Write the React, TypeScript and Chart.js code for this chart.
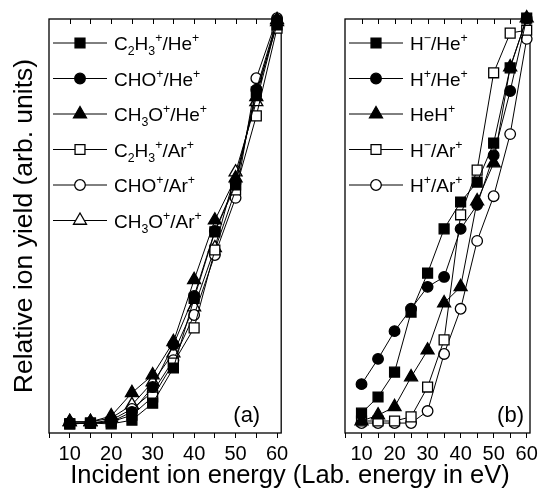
import React, { useEffect, useRef } from 'react';
import { Chart, registerables } from 'chart.js';

Chart.register(...registerables);

const FONT = "'Liberation Sans', Arial, Helvetica, sans-serif";

// Incident ion energies (eV)
const energies = [10, 15, 20, 25, 30, 35, 40, 45, 50, 55, 60];
const xMajorTicks = [10, 20, 30, 40, 50, 60];
const xMinorTicks = [5, 15, 25, 35, 45, 55];

// Panel (a)
const aLabels = ['C_2H_3^+/He^+', 'CHO^+/He^+', 'CH_3O^+/He^+', 'C_2H_3^+/Ar^+', 'CHO^+/Ar^+', 'CH_3O^+/Ar^+'];
const aC2H3He = [2.2, 2.4, 2.2, 3.1, 7.2, 15.7, 32.5, 48.6, 59.9, 82.4, 98.6];
const aCHOHe = [2.4, 2.4, 2.7, 5.1, 11.1, 21.3, 33.1, 48.8, 60.4, 82.9, 99.8];
const aCH3OHe = [2.7, 2.7, 4.1, 9.7, 14.0, 22.0, 37.0, 51.4, 61.6, 81.2, 99.8];
const aC2H3Ar = [2.2, 2.4, 2.7, 4.3, 8.7, 16.9, 25.4, 44.2, 58.7, 76.6, 97.8];
const aCHOAr = [2.4, 2.4, 3.1, 5.8, 9.9, 17.6, 28.5, 43.0, 56.8, 85.7, 100.2];
const aCH3OAr = [2.7, 2.7, 3.6, 6.8, 12.3, 19.3, 30.4, 44.7, 63.0, 80.0, 99.3];

// Panel (b)
const bLabels = ['H^−/He^+', 'H^+/He^+', 'HeH^+', 'H^−/Ar^+', 'H^+/Ar^+'];
const bHmHe = [4.8, 8.7, 14.7, 29.2, 38.6, 49.3, 55.8, 60.6, 70.0, 88.2, 100.2];
const bHpHe = [11.8, 17.9, 24.6, 30.0, 35.3, 37.7, 49.3, 55.1, 67.1, 82.6, 100.2];
const bHeH = [2.9, 4.3, 6.3, 13.5, 20.0, 31.4, 35.3, 56.0, 65.2, 88.4, 100.2];
const bHmAr = [2.9, 2.9, 2.9, 3.9, 11.1, 22.5, 52.7, 63.5, 87.0, 96.6, 97.3];
const bHpAr = [2.4, 2.4, 2.4, 2.4, 5.3, 19.1, 30.0, 46.4, 57.2, 72.2, 95.2];

type Style = 'rect' | 'circle' | 'triangle';

function markerRadius(style: Style) {
  return style === 'rect' ? 7 : style === 'circle' ? 5.3 : 7.5;
}

function makeDataset(label: string, values: number[], style: Style, filled: boolean) {
  const r = markerRadius(style);
  return {
    label,
    data: energies.map((x, i) => ({ x, y: values[i] })),
    pointStyle: style,
    pointRadius: r,
    pointHoverRadius: r,
    pointBackgroundColor: filled ? '#000' : '#fff',
    pointBorderColor: '#000',
    pointBorderWidth: 1.3,
    borderColor: '#000',
    backgroundColor: filled ? '#000' : '#fff',
    borderWidth: 1,
    tension: 0,
    fill: false,
    clip: false,
    _style: style,
    _filled: filled,
  };
}

function drawMarker(ctx: CanvasRenderingContext2D, style: Style, x: number, y: number, filled: boolean) {
  const r = markerRadius(style);
  ctx.beginPath();
  if (style === 'rect') {
    const s = Math.SQRT1_2 * r;
    ctx.rect(x - s, y - s, 2 * s, 2 * s);
  } else if (style === 'circle') {
    ctx.arc(x, y, r, 0, Math.PI * 2);
  } else {
    const a = (2 * Math.PI) / 3;
    ctx.moveTo(x, y - r);
    ctx.lineTo(x + Math.sin(a) * r, y - Math.cos(a) * r);
    ctx.lineTo(x + Math.sin(2 * a) * r, y - Math.cos(2 * a) * r);
    ctx.closePath();
  }
  ctx.fillStyle = filled ? '#000' : '#fff';
  ctx.fill();
  ctx.lineWidth = 1.3;
  ctx.strokeStyle = '#000';
  ctx.stroke();
}

function drawRich(ctx: CanvasRenderingContext2D, text: string, x: number, y: number, size: number) {
  let cx = x;
  ctx.textAlign = 'left';
  ctx.textBaseline = 'alphabetic';
  ctx.fillStyle = '#000';
  for (let i = 0; i < text.length; i++) {
    let ch = text[i];
    let mode = 0;
    if ((ch === '_' || ch === '^') && i + 1 < text.length) {
      mode = ch === '_' ? 1 : 2;
      i++;
      ch = text[i];
    }
    const fs = mode ? size * 0.65 : size;
    ctx.font = `${fs}px ${FONT}`;
    const dy = mode === 1 ? size * 0.28 : mode === 2 ? -size * 0.4 : 0;
    ctx.fillText(ch, cx, y + dy);
    cx += ctx.measureText(ch).width;
  }
}

const framePlugin = {
  id: 'frame',
  beforeDatasetsDraw(chart: any, _args: any, opts: any) {
    const { ctx, chartArea } = chart;
    const { left, right, top, bottom } = chartArea;
    ctx.save();
    ctx.strokeStyle = '#000';
    ctx.lineWidth = 1.3;
    ctx.strokeRect(left, top, right - left, bottom - top);
    ctx.lineWidth = 1;
    const xs = chart.scales.x;
    const tops = [...xMajorTicks, ...xMinorTicks].filter((v) => v > xs.min && v < xs.max);
    tops.forEach((v) => {
      const px = Math.round(xs.getPixelForValue(v)) + 0.5;
      ctx.beginPath();
      ctx.moveTo(px, top);
      ctx.lineTo(px, top + 5);
      ctx.stroke();
    });
    ctx.font = `22px ${FONT}`;
    ctx.fillStyle = '#000';
    ctx.textAlign = 'right';
    ctx.textBaseline = 'alphabetic';
    ctx.fillText(opts.label, right - opts.inset, bottom - 11);
    ctx.restore();
  },
  afterDatasetsDraw(chart: any) {
    const { ctx, chartArea } = chart;
    const { left, top } = chartArea;
    ctx.save();
    chart.data.datasets.forEach((ds: any, i: number) => {
      const y = top + 24 + i * 35.5;
      ctx.beginPath();
      ctx.strokeStyle = '#000';
      ctx.lineWidth = 1;
      ctx.moveTo(left + 4, y);
      ctx.lineTo(left + 58, y);
      ctx.stroke();
      drawMarker(ctx, ds._style, left + 31, y, ds._filled);
      drawRich(ctx, ds.label, left + 65, y + 7, 19);
    });
    ctx.restore();
  },
};

function makeOptions(showY: boolean, padLeft: number, padRight: number, label: string, inset: number) {
  const allTicks = [...xMinorTicks, ...xMajorTicks].sort((a, b) => a - b);
  return {
    responsive: false,
    animation: false,
    events: [],
    layout: { padding: { left: padLeft, right: padRight, top: 19, bottom: 0 } },
    plugins: {
      legend: { display: false },
      tooltip: { enabled: false },
      frame: { label, inset },
    },
    scales: {
      x: {
        type: 'linear',
        min: 5,
        max: 61,
        afterBuildTicks: (s: any) => {
          s.ticks = allTicks.map((v) => ({ value: v }));
        },
        afterFit: (s: any) => {
          s.height = 65;
          s.paddingLeft = 0;
          s.paddingRight = 0;
        },
        ticks: {
          autoSkip: false,
          maxRotation: 0,
          padding: 4,
          color: '#000',
          font: { size: 20, family: FONT },
          callback: (v: number) => (xMajorTicks.includes(v) ? String(v) : ''),
        },
        grid: { drawOnChartArea: false, drawTicks: true, tickLength: 5, color: '#000', lineWidth: 1 },
        border: { display: false },
      },
      y: {
        type: 'linear',
        min: 0,
        max: 100,
        display: showY,
        ticks: { display: false },
        grid: { display: false },
        border: { display: false },
        title: {
          display: true,
          text: 'Relative ion yield (arb. units)',
          color: '#000',
          font: { size: 26.5, family: FONT },
          padding: { top: 9, bottom: 0 },
        },
        afterFit: (s: any) => {
          s.width = 49;
          s.paddingTop = 0;
          s.paddingBottom = 0;
        },
      },
    },
  };
}

export default function App() {
  const refA = useRef<HTMLCanvasElement>(null);
  const refB = useRef<HTMLCanvasElement>(null);

  useEffect(() => {
    const chartA = new Chart(refA.current as HTMLCanvasElement, {
      type: 'line',
      data: {
        datasets: [
          makeDataset(aLabels[0], aC2H3He, 'rect', true),
          makeDataset(aLabels[1], aCHOHe, 'circle', true),
          makeDataset(aLabels[2], aCH3OHe, 'triangle', true),
          makeDataset(aLabels[3], aC2H3Ar, 'rect', false),
          makeDataset(aLabels[4], aCHOAr, 'circle', false),
          makeDataset(aLabels[5], aCH3OAr, 'triangle', false),
        ] as any,
      },
      options: makeOptions(true, 0, 7, '(a)', 21) as any,
      plugins: [framePlugin as any],
    });
    const chartB = new Chart(refB.current as HTMLCanvasElement, {
      type: 'line',
      data: {
        datasets: [
          makeDataset(bLabels[0], bHmHe, 'rect', true),
          makeDataset(bLabels[1], bHpHe, 'circle', true),
          makeDataset(bLabels[2], bHeH, 'triangle', true),
          makeDataset(bLabels[3], bHmAr, 'rect', false),
          makeDataset(bLabels[4], bHpAr, 'circle', false),
        ] as any,
      },
      options: makeOptions(false, 6, 10, '(b)', 6) as any,
      plugins: [framePlugin as any],
    });
    return () => {
      chartA.destroy();
      chartB.destroy();
    };
  }, []);

  return (
    <div style={{ position: 'absolute', left: 0, top: 0, width: 540, height: 498, overflow: 'hidden', background: '#fff' }}>
      <canvas ref={refA} width={290} height={498} style={{ position: 'absolute', left: 0, top: 0 }} />
      <canvas ref={refB} width={250} height={498} style={{ position: 'absolute', left: 290, top: 0 }} />
      <div
        style={{
          position: 'absolute',
          left: 40,
          top: 462,
          width: 500,
          textAlign: 'center',
          fontFamily: FONT,
          fontSize: 25.5,
          lineHeight: '25px',
          color: '#000',
          whiteSpace: 'nowrap',
        }}
      >
        Incident ion energy (Lab. energy in eV)
      </div>
    </div>
  );
}
